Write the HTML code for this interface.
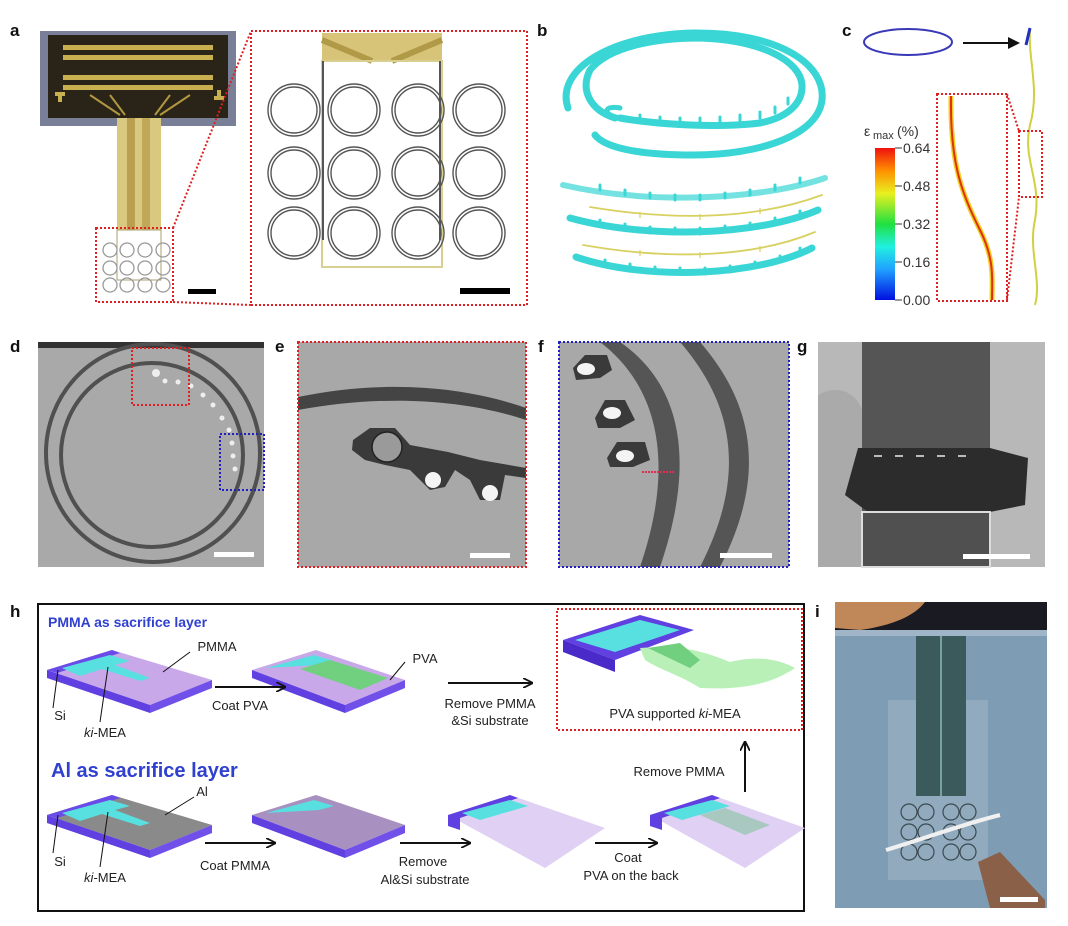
<!DOCTYPE html>
<html><head><meta charset="utf-8"><style>
html,body{margin:0;padding:0;background:#fff;}
svg{display:block;}
text{font-family:"Liberation Sans",sans-serif;}
</style></head><body>
<svg width="1068" height="926" viewBox="0 0 1068 926" xmlns="http://www.w3.org/2000/svg">
<defs>
<linearGradient id="cbar" x1="0" y1="1" x2="0" y2="0">
<stop offset="0" stop-color="#0010e0"/><stop offset="0.2" stop-color="#20a0ff"/><stop offset="0.35" stop-color="#20f0e0"/><stop offset="0.5" stop-color="#20e040"/><stop offset="0.7" stop-color="#e8f020"/><stop offset="0.85" stop-color="#ff9000"/><stop offset="1" stop-color="#f01010"/>
</linearGradient>
<marker id="ar" markerWidth="10" markerHeight="10" refX="9" refY="5" orient="auto" markerUnits="userSpaceOnUse"><path d="M0,0 L10,5 L0,10" fill="none" stroke="#111" stroke-width="1.8"/></marker>
</defs>

<!-- labels -->
<g font-weight="bold" font-size="17" fill="#111">
<text x="10" y="36">a</text><text x="537" y="36">b</text><text x="842" y="36">c</text>
<text x="10" y="352">d</text><text x="275" y="352">e</text><text x="538" y="352">f</text><text x="797" y="352">g</text>
<text x="10" y="617">h</text><text x="815" y="617">i</text>
</g>

<!-- panel a -->
<rect x="40" y="31" width="196" height="95" fill="#7a7f98"/>
<rect x="48" y="35" width="180" height="83" fill="#2a2418"/>
<g fill="#c8b050">
<rect x="63" y="45" width="150" height="5"/><rect x="63" y="55" width="150" height="5"/>
<rect x="63" y="75" width="150" height="5"/><rect x="63" y="85" width="150" height="5"/>
<rect x="55" y="92" width="10" height="4"/><rect x="58" y="92" width="4" height="10"/>
<rect x="214" y="96" width="10" height="4"/><rect x="217" y="90" width="4" height="10"/>
</g>
<path d="M90,95 L120,115 M110,95 L125,115 M170,95 L155,115 M190,95 L160,115" stroke="#b09840" stroke-width="2"/>
<rect x="117" y="118" width="44" height="112" fill="#d8c880"/>
<rect x="127" y="118" width="8" height="112" fill="#b8a050"/><rect x="142" y="118" width="8" height="112" fill="#c0a858"/>
<rect x="117" y="230" width="44" height="50" fill="none" stroke="#a8a070" stroke-width="1"/>
<g fill="none" stroke="#999" stroke-width="1.3">
<circle cx="110" cy="250" r="7"/><circle cx="127" cy="250" r="7"/><circle cx="145" cy="250" r="7"/><circle cx="163" cy="250" r="7"/>
<circle cx="110" cy="268" r="7"/><circle cx="127" cy="268" r="7"/><circle cx="145" cy="268" r="7"/><circle cx="163" cy="268" r="7"/>
<circle cx="110" cy="285" r="7"/><circle cx="127" cy="285" r="7"/><circle cx="145" cy="285" r="7"/><circle cx="163" cy="285" r="7"/>
</g>
<rect x="96" y="228" width="77" height="74" fill="none" stroke="#e02020" stroke-width="2" stroke-dasharray="2,2"/>
<path d="M173,228 L251,31 M173,302 L251,305" stroke="#e02020" stroke-width="2" stroke-dasharray="2,2"/>
<rect x="188" y="289" width="28" height="5" fill="#000"/>
<rect x="251" y="31" width="276" height="274" fill="none" stroke="#e02020" stroke-width="2" stroke-dasharray="2,2"/>
<rect x="322" y="33" width="120" height="28" fill="#d8c478"/>
<path d="M322,40 L372,61 M442,40 L392,61" stroke="#b09a48" stroke-width="6"/>
<rect x="322" y="61" width="120" height="206" fill="none" stroke="#d8d090" stroke-width="2"/>
<path d="M323,61 V240 M440,61 V240" stroke="#555" stroke-width="2"/>
<g fill="none" stroke="#555" stroke-width="1.4">
<circle cx="294" cy="110" r="26"/><circle cx="294" cy="110" r="23"/><circle cx="354" cy="110" r="26"/><circle cx="354" cy="110" r="23"/><circle cx="418" cy="110" r="26"/><circle cx="418" cy="110" r="23"/><circle cx="479" cy="110" r="26"/><circle cx="479" cy="110" r="23"/>
<circle cx="294" cy="173" r="26"/><circle cx="294" cy="173" r="23"/><circle cx="354" cy="173" r="26"/><circle cx="354" cy="173" r="23"/><circle cx="418" cy="173" r="26"/><circle cx="418" cy="173" r="23"/><circle cx="479" cy="173" r="26"/><circle cx="479" cy="173" r="23"/>
<circle cx="294" cy="233" r="26"/><circle cx="294" cy="233" r="23"/><circle cx="354" cy="233" r="26"/><circle cx="354" cy="233" r="23"/><circle cx="418" cy="233" r="26"/><circle cx="418" cy="233" r="23"/><circle cx="479" cy="233" r="26"/><circle cx="479" cy="233" r="23"/>
</g>
<rect x="460" y="288" width="50" height="6" fill="#000"/>

<!-- panel b -->
<g fill="none" stroke="#3ad6d6" stroke-linecap="round">
<path d="M568,108 C555,70 610,35 693,33 C780,32 826,65 822,100 C818,135 760,155 693,155 C640,155 605,148 595,135" stroke-width="7"/>
<path d="M615,118 C590,110 580,90 590,70 C610,45 660,38 700,38 C760,40 800,60 802,85 C803,105 785,118 760,123 C720,128 660,125 620,118" stroke-width="7"/>
<path d="M620,118 C600,114 605,105 620,108" stroke-width="5"/>
<path d="M563,185 C650,205 760,200 825,178" stroke-width="6" opacity="0.7"/>
<path d="M570,218 C650,240 760,235 818,210" stroke-width="7"/>
<path d="M576,257 C650,282 760,275 812,248" stroke-width="7"/>
<path d="M590,207 C680,222 760,218 822,195" stroke="#d8d060" stroke-width="1.8"/>
<path d="M583,245 C680,262 760,255 815,232" stroke="#d8d060" stroke-width="1.8"/>
</g>
<g stroke="#3ad6d6" stroke-width="3" stroke-linecap="round">
<path d="M640,121v-6M660,123v-6M680,124v-6M700,124v-6M720,123v-6M740,121v-6M760,118v-6M775,113v-6M788,104v-6"/>
<path d="M600,190v-5M625,195v-5M650,198v-5M675,200v-5M700,200v-5M725,198v-5M750,195v-5M775,190v-5M800,183v-5"/>
<path d="M600,226v-6M625,230v-6M650,233v-6M675,234v-6M700,234v-6M725,232v-6M750,229v-6M775,224v-6M800,217v-6"/>
<path d="M605,266v-6M630,270v-6M655,273v-6M680,274v-6M705,274v-6M730,272v-6M755,268v-6M780,262v-6M800,254v-6"/>
</g>
<g stroke="#d8d060" stroke-width="1.2">
<path d="M640,212v6M700,214v6M760,208v6M640,250v6M700,252v6M760,246v6"/>
</g>

<!-- panel c -->
<ellipse cx="908" cy="42" rx="44" ry="13" fill="none" stroke="#3838b8" stroke-width="2"/>
<line x1="963" y1="43" x2="1018" y2="43" stroke="#111" stroke-width="2"/>
<path d="M1020,43 L1008,37 L1008,49 Z" fill="#111"/>
<path d="M1030,30 C1028,60 1040,90 1030,125 C1022,160 1042,180 1035,220 C1028,250 1042,280 1035,305" fill="none" stroke="#d0d040" stroke-width="2"/>
<path d="M1030,28 L1026,45" stroke="#2030c0" stroke-width="3"/>
<rect x="1019" y="131" width="23" height="66" fill="none" stroke="#e02020" stroke-width="2" stroke-dasharray="2,2"/>
<path d="M1007,94 L1019,131 M1007,300 L1019,197" stroke="#e02020" stroke-width="2" stroke-dasharray="2,2"/>
<rect x="937" y="94" width="70" height="207" fill="none" stroke="#e02020" stroke-width="2" stroke-dasharray="2,2"/>
<path d="M951,96 C950,160 960,190 980,230 C995,260 992,280 992,300" fill="none" stroke="#f0d020" stroke-width="5"/>
<path d="M951,96 C950,160 960,190 980,230 C995,260 992,280 992,300" fill="none" stroke="#e03010" stroke-width="2"/>
<rect x="875" y="148" width="20" height="152" fill="url(#cbar)"/>
<g stroke="#333" stroke-width="1">
<line x1="895" y1="148" x2="902" y2="148"/><line x1="895" y1="186" x2="902" y2="186"/><line x1="895" y1="224" x2="902" y2="224"/><line x1="895" y1="262" x2="902" y2="262"/><line x1="895" y1="300" x2="902" y2="300"/>
</g>
<g font-size="14" fill="#333">
<text x="903" y="153">0.64</text><text x="903" y="191">0.48</text><text x="903" y="229">0.32</text><text x="903" y="267">0.16</text><text x="903" y="305">0.00</text>
<text x="864" y="136">ε</text><text x="873" y="139" font-size="11">max</text><text x="897" y="136">(%)</text>
</g>

<!-- panel d -->
<rect x="38" y="342" width="226" height="225" fill="#a9a9a9"/>
<rect x="38" y="342" width="226" height="6" fill="#333"/>
<ellipse cx="153" cy="453" rx="107" ry="109" fill="none" stroke="#505050" stroke-width="4"/>
<ellipse cx="152" cy="455" rx="91" ry="92" fill="none" stroke="#505050" stroke-width="4"/>
<g fill="#eee"><circle cx="156" cy="373" r="4"/><circle cx="165" cy="381" r="2.5"/><circle cx="178" cy="382" r="2.5"/><circle cx="191" cy="386" r="2.5"/><circle cx="203" cy="395" r="2.5"/><circle cx="213" cy="405" r="2.5"/><circle cx="222" cy="418" r="2.5"/><circle cx="229" cy="430" r="2.5"/><circle cx="232" cy="443" r="2.5"/><circle cx="233" cy="456" r="2.5"/><circle cx="235" cy="469" r="2.5"/></g>
<rect x="132" y="348" width="57" height="57" fill="none" stroke="#e02020" stroke-width="2" stroke-dasharray="2,2"/>
<rect x="220" y="434" width="44" height="56" fill="none" stroke="#2020c0" stroke-width="2" stroke-dasharray="2,2"/>
<rect x="214" y="552" width="40" height="5" fill="#fff"/>

<!-- panel e -->
<rect x="298" y="342" width="228" height="225" fill="#a8a8a8"/>
<path d="M298,397 C380,380 460,385 526,408 L526,420 C460,398 380,395 298,410 Z" fill="#444"/>
<path d="M353,440 L370,428 L395,428 L410,445 L448,452 L480,460 L526,468 L526,478 L505,475 L500,500 L480,500 L470,480 L455,470 L445,487 L430,490 L410,470 L385,465 L365,460 L352,450 Z" fill="#3a3a3a"/>
<circle cx="387" cy="447" r="15" fill="#9a9a9a" stroke="#222" stroke-width="1.5"/>
<circle cx="433" cy="480" r="8" fill="#f4f4f4"/><circle cx="490" cy="493" r="8" fill="#f4f4f4"/>
<rect x="298" y="342" width="228" height="225" fill="none" stroke="#e02020" stroke-width="2" stroke-dasharray="2,2"/>
<rect x="470" y="553" width="40" height="5" fill="#fff"/>

<!-- panel f -->
<rect x="559" y="342" width="230" height="225" fill="#a8a8a8"/>
<path d="M600,342 C650,380 680,450 640,567 L660,567 C700,450 675,380 620,342 Z" fill="#555"/>
<path d="M680,342 C730,400 750,470 700,567 L720,567 C770,470 750,400 700,342 Z" fill="#555"/>
<g fill="#3a3a3a">
<path d="M573,368 L585,355 L607,355 L612,370 L600,378 L576,380 Z"/>
<path d="M595,418 L605,400 L625,400 L635,420 L620,428 L598,428 Z"/>
<path d="M607,458 L617,442 L645,442 L650,460 L633,467 L610,467 Z"/>
</g>
<g fill="#f4f4f4"><ellipse cx="586" cy="369" rx="9" ry="6"/><ellipse cx="612" cy="413" rx="9" ry="6"/><ellipse cx="625" cy="456" rx="9" ry="6"/></g>
<line x1="642" y1="472" x2="675" y2="472" stroke="#e03050" stroke-width="2" stroke-dasharray="2,1"/>
<rect x="559" y="342" width="230" height="225" fill="none" stroke="#2020c0" stroke-width="2" stroke-dasharray="2,2"/>
<rect x="720" y="553" width="52" height="5" fill="#fff"/>

<!-- panel g -->
<rect x="818" y="342" width="227" height="225" fill="#b8b8b8"/>
<rect x="862" y="342" width="128" height="225" fill="#555"/>
<path d="M818,395 C835,385 855,390 862,410 L862,567 L818,567 Z" fill="#aaa"/>
<path d="M858,448 L990,448 L1028,458 L1025,505 L990,512 L868,512 L845,495 Z" fill="#2c2c2c"/>
<rect x="862" y="512" width="128" height="55" fill="#505050" stroke="#ddd" stroke-width="2"/>
<g fill="#bbb"><rect x="874" y="455" width="8" height="2"/><rect x="895" y="455" width="8" height="2"/><rect x="916" y="455" width="8" height="2"/><rect x="937" y="455" width="8" height="2"/><rect x="958" y="455" width="8" height="2"/></g>
<rect x="963" y="554" width="67" height="5" fill="#fff"/>

<!-- panel h -->
<rect x="38" y="604" width="766" height="307" fill="#fff" stroke="#111" stroke-width="2"/>
<text x="48" y="627" font-size="14" font-weight="bold" fill="#3040d0">PMMA as sacrifice layer</text>
<text x="51" y="777" font-size="20" font-weight="bold" fill="#3040d0">Al as sacrifice layer</text>
<path d="M47,670 L112,650 L212,680 L150,705 Z" fill="#c8a8e8"/>
<path d="M47,670 L150,705 L150,713 L47,678 Z" fill="#6040e0"/><path d="M150,705 L212,680 L212,688 L150,713 Z" fill="#7050e8"/>
<path d="M47,670 L112,650 L120,653 L57,673 Z" fill="#6a4ae8"/>
<path d="M62,668 L110,655 L130,661 L115,665 L150,678 L140,681 L102,669 L80,676 Z" fill="#58e0e0"/>
<path d="M252,670 L316,650 L405,680 L345,705 Z" fill="#c8a8e8"/>
<path d="M252,670 L345,705 L345,713 L252,678 Z" fill="#6040e0"/><path d="M345,705 L405,680 L405,688 L345,713 Z" fill="#7050e8"/>
<path d="M266,668 L314,655 L334,661 L319,665 Z" fill="#58e0e0"/>
<path d="M300,669 L330,660 L388,678 L360,690 Z" fill="#70d080"/>
<path d="M563,640 L640,615 L694,630 L615,660 Z" fill="#6040e0"/>
<path d="M563,640 L615,660 L615,672 L563,652 Z" fill="#4a2ac8"/>
<path d="M575,640 L640,620 L680,630 L615,652 Z" fill="#58e0e0"/>
<path d="M640,648 C680,645 700,650 730,662 C760,655 780,660 795,668 C770,685 740,690 700,688 C680,675 660,670 645,660 Z" fill="#b8f0b8"/>
<path d="M648,648 L680,643 L700,660 L690,668 Z" fill="#70d080"/>
<path d="M47,815 L112,795 L212,825 L150,850 Z" fill="#8a8a8a"/>
<path d="M47,815 L150,850 L150,858 L47,823 Z" fill="#6040e0"/><path d="M150,850 L212,825 L212,833 L150,858 Z" fill="#7050e8"/>
<path d="M47,815 L112,795 L120,798 L57,818 Z" fill="#6a4ae8"/>
<path d="M62,813 L110,800 L130,806 L115,810 L150,823 L140,826 L102,814 L80,821 Z" fill="#58e0e0"/>
<path d="M252,815 L316,795 L405,825 L345,850 Z" fill="#a890c0"/>
<path d="M252,815 L345,850 L345,858 L252,823 Z" fill="#6040e0"/><path d="M345,850 L405,825 L405,833 L345,858 Z" fill="#7050e8"/>
<path d="M266,813 L314,800 L334,806 L319,810 Z" fill="#58e0e0"/>
<path d="M448,815 L510,795 L605,828 L545,868 Z" fill="#e0d0f4"/>
<path d="M448,815 L510,795 L518,798 L460,818 L460,830 L448,826 Z" fill="#6040e0"/>
<path d="M462,813 L510,800 L528,806 L480,820 Z" fill="#58e0e0"/>
<path d="M650,815 L712,795 L805,828 L745,868 Z" fill="#e0d0f4"/>
<path d="M650,815 L712,795 L720,798 L662,818 L662,830 L650,826 Z" fill="#6040e0"/>
<path d="M664,813 L712,800 L730,806 L682,820 Z" fill="#58e0e0"/>
<path d="M700,815 L725,808 L770,825 L745,835 Z" fill="#a8c8c0"/>
<g stroke="#111" stroke-width="1">
<line x1="58" y1="670" x2="53" y2="708"/><line x1="108" y1="667" x2="100" y2="722"/><line x1="190" y1="652" x2="163" y2="672"/>
<line x1="405" y1="662" x2="390" y2="680"/>
<line x1="58" y1="815" x2="53" y2="853"/><line x1="108" y1="812" x2="100" y2="867"/><line x1="194" y1="797" x2="165" y2="815"/>
</g>
<g stroke="#111" stroke-width="2" marker-end="url(#ar)">
<line x1="215" y1="687" x2="285" y2="687"/><line x1="448" y1="683" x2="532" y2="683"/>
<line x1="205" y1="843" x2="275" y2="843"/><line x1="400" y1="843" x2="470" y2="843"/><line x1="595" y1="843" x2="657" y2="843"/>
<line x1="745" y1="792" x2="745" y2="742"/>
</g>
<rect x="557" y="609" width="245" height="121" fill="none" stroke="#e02020" stroke-width="2" stroke-dasharray="2,2"/>
<g font-size="13" fill="#222" text-anchor="middle">
<text x="217" y="651">PMMA</text><text x="60" y="720">Si</text><text x="105" y="737"><tspan font-style="italic">ki</tspan>-MEA</text>
<text x="240" y="710">Coat PVA</text><text x="425" y="663">PVA</text>
<text x="490" y="708">Remove PMMA</text><text x="490" y="725">&amp;Si substrate</text>
<text x="675" y="718">PVA supported <tspan font-style="italic">ki</tspan>-MEA</text>
<text x="202" y="796">Al</text><text x="60" y="866">Si</text><text x="105" y="882"><tspan font-style="italic">ki</tspan>-MEA</text>
<text x="235" y="870">Coat PMMA</text><text x="423" y="866">Remove</text><text x="425" y="884">Al&amp;Si substrate</text>
<text x="628" y="862">Coat</text><text x="631" y="880">PVA on the back</text>
<text x="679" y="776">Remove PMMA</text>
</g>

<!-- panel i -->
<rect x="835" y="602" width="212" height="306" fill="#7e9cb4"/>
<rect x="835" y="602" width="212" height="28" fill="#1a1a22"/>
<path d="M835,602 L925,602 C915,615 895,625 860,630 L835,628 Z" fill="#c08858"/>
<rect x="835" y="630" width="212" height="6" fill="#b0c0d0" opacity="0.7"/>
<rect x="888" y="700" width="100" height="180" fill="#9ab0c2" opacity="0.7"/>
<rect x="916" y="636" width="50" height="160" fill="#3a5a5c"/>
<line x1="941" y1="636" x2="941" y2="796" stroke="#7aa0a0" stroke-width="2"/>
<g fill="none" stroke="#3a4a50" stroke-width="1.2">
<circle cx="909" cy="812" r="8"/><circle cx="926" cy="812" r="8"/><circle cx="951" cy="812" r="8"/><circle cx="968" cy="812" r="8"/>
<circle cx="909" cy="832" r="8"/><circle cx="926" cy="832" r="8"/><circle cx="951" cy="832" r="8"/><circle cx="968" cy="832" r="8"/>
<circle cx="909" cy="852" r="8"/><circle cx="926" cy="852" r="8"/><circle cx="951" cy="852" r="8"/><circle cx="968" cy="852" r="8"/>
</g>
<path d="M886,850 C920,840 960,825 1000,815" stroke="#f0f0f0" stroke-width="4" fill="none"/>
<path d="M978,862 L1000,852 L1045,900 L1045,908 L990,908 Z" fill="#8a6048"/>
<rect x="1000" y="897" width="38" height="5" fill="#fff"/>
</svg>
</body></html>
